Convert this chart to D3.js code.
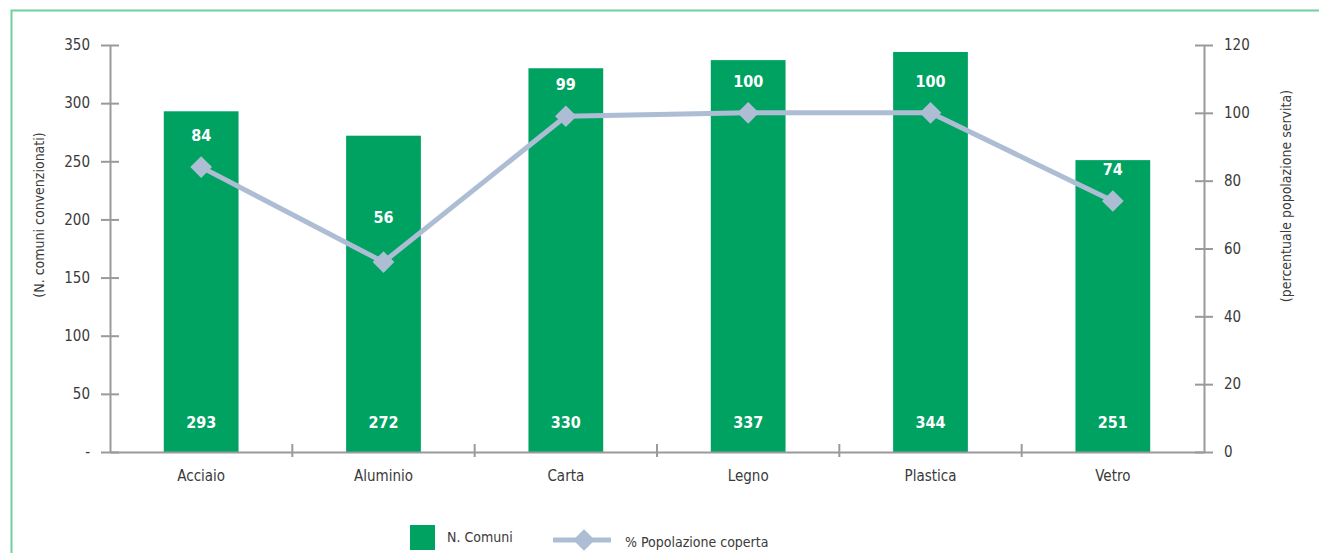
<!DOCTYPE html>
<html><head><meta charset="utf-8">
<script src="https://cdn.jsdelivr.net/npm/d3@7"></script>
<style>
html,body{margin:0;padding:0;background:#fff;}
svg{display:block;}
text{font-family:"DejaVu Sans Condensed","Liberation Sans Narrow",sans-serif;}
</style></head>
<body><svg id="c" width="1319" height="553"></svg>
<script>
const categories = ["Acciaio","Aluminio","Carta","Legno","Plastica","Vetro"];
const comuni = [293,272,330,337,344,251];
const popolazione = [84,56,99,100,100,74];
const leftTicks = [0,50,100,150,200,250,300,350];
const rightTicks = [0,20,40,60,80,100,120];

const svg = d3.select("#c");
const W=1319,H=553;
const m={l:110,r:1204,t:45,b:452};
const green="#00a262", lineC="#adbdd4", axisC="#9a9a9e", txt="#3a3a3a";
const FF="DejaVu Sans Condensed, Liberation Sans Narrow, sans-serif";

// frame
svg.append("path").attr("d",`M11.5,${H} L11.5,10.5 L${W},10.5`).attr("fill","none").attr("stroke","#6fcf9f").attr("stroke-width",2);

const x=d3.scaleBand().domain(categories).range([m.l,m.r]).paddingInner(0.59).paddingOuter(0.295);
const xb=d3.scaleBand().domain(categories).range([m.l,m.r]);
const yL=d3.scaleLinear().domain([0,350]).range([m.b,m.t]);
const yR=d3.scaleLinear().domain([0,120]).range([m.b,m.t]);

// bars
svg.selectAll(".bar").data(categories).enter().append("rect")
 .attr("x",d=>x(d)).attr("width",x.bandwidth())
 .attr("y",(d,i)=>yL(comuni[i])).attr("height",(d,i)=>m.b-yL(comuni[i])).attr("fill",green);
svg.selectAll(".bl").data(categories).enter().append("text")
 .attr("x",d=>x(d)+x.bandwidth()/2).attr("y",428).attr("text-anchor","middle")
 .attr("fill","#fff").attr("font-weight","bold").attr("font-size",16).text((d,i)=>comuni[i]);

// axes
const axL=svg.append("g").attr("transform",`translate(${m.l},0)`)
 .call(d3.axisLeft(yL).tickValues(leftTicks).tickSize(0).tickPadding(20).tickFormat(d=>d===0?"-":d));
axL.select(".domain").attr("stroke",axisC).attr("stroke-width",2);
axL.selectAll(".tick").append("line").attr("x1",-9).attr("x2",9).attr("stroke",axisC).attr("stroke-width",2);
axL.selectAll("text").attr("font-size",15).attr("fill",txt).attr("font-family",FF);

const axR=svg.append("g").attr("transform",`translate(${m.r},0)`)
 .call(d3.axisRight(yR).tickValues(rightTicks).tickSize(0).tickPadding(20));
axR.select(".domain").attr("stroke",axisC).attr("stroke-width",2);
axR.selectAll(".tick").append("line").attr("x1",-9).attr("x2",9).attr("stroke",axisC).attr("stroke-width",2);
axR.selectAll("text").attr("font-size",15).attr("fill",txt).attr("font-family",FF);

const axB=svg.append("g").attr("transform",`translate(0,${m.b})`)
 .call(d3.axisBottom(xb).tickSize(0).tickPadding(18));
axB.select(".domain").attr("stroke",axisC).attr("stroke-width",2);
axB.selectAll("text").attr("font-size",15).attr("fill",txt).attr("font-family",FF);
// category separator ticks
svg.append("g").selectAll("line").data(categories.slice(1)).enter().append("line")
 .attr("x1",d=>xb(d)).attr("x2",d=>xb(d)).attr("y1",m.b-8).attr("y2",m.b+5)
 .attr("stroke",axisC).attr("stroke-width",2);

// axis titles
svg.append("text").attr("transform",`translate(44,215) rotate(-90)`).attr("text-anchor","middle")
 .attr("font-size",14).attr("fill",txt).text("(N. comuni convenzionati)");
svg.append("text").attr("transform",`translate(1291,196) rotate(-90)`).attr("text-anchor","middle")
 .attr("font-size",14).attr("fill",txt).text("(percentuale popolazione servita)");

// line
const cx=d=>xb(d)+xb.bandwidth()/2;
const line=d3.line().x((d,i)=>cx(categories[i])).y(d=>yR(d));
svg.append("path").datum(popolazione).attr("d",line).attr("fill","none").attr("stroke",lineC).attr("stroke-width",5);
const diamond=d3.symbol().type(d3.symbolDiamond2).size(300);
svg.selectAll(".pt").data(popolazione).enter().append("path")
 .attr("d",diamond).attr("transform",(d,i)=>`translate(${cx(categories[i])},${yR(d)})`).attr("fill",lineC);
svg.selectAll(".pl").data(popolazione).enter().append("text")
 .attr("x",(d,i)=>cx(categories[i])).attr("y",(d,i)=>yR(d)-(categories[i]==="Aluminio"?39:26))
 .attr("text-anchor","middle").attr("fill","#fff").attr("font-weight","bold").attr("font-size",16).text(d=>d);

// legend
svg.append("rect").attr("x",410).attr("y",525).attr("width",25).attr("height",25).attr("fill",green);
svg.append("text").attr("x",447).attr("y",542).attr("font-size",14).attr("fill",txt).text("N. Comuni");
svg.append("line").attr("x1",553).attr("x2",611).attr("y1",540).attr("y2",540).attr("stroke",lineC).attr("stroke-width",5);
svg.append("path").attr("d",diamond).attr("transform","translate(584,540)").attr("fill",lineC);
svg.append("text").attr("x",625).attr("y",547).attr("font-size",14).attr("fill",txt).text("% Popolazione coperta");
</script></body></html>
